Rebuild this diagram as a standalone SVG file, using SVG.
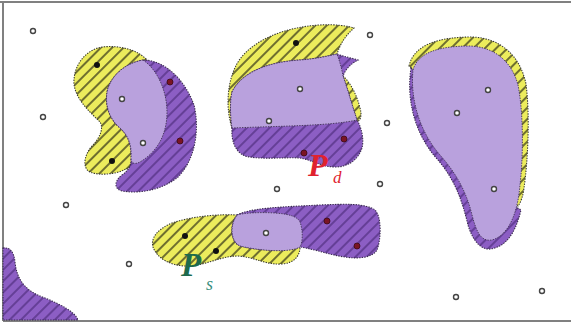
<svg xmlns="http://www.w3.org/2000/svg" width="571" height="326" viewBox="0 0 571 326">
<defs>
<pattern id="hy" width="8" height="8" patternUnits="userSpaceOnUse" patternTransform="rotate(45)">
<rect width="8" height="8" fill="#ecec5c"/>
<line x1="1" y1="0" x2="1" y2="8" stroke="#1a1a10" stroke-width="1.2"/>
</pattern>
<pattern id="hp" width="8" height="8" patternUnits="userSpaceOnUse" patternTransform="rotate(45)">
<rect width="8" height="8" fill="#8c5ec4"/>
<line x1="1" y1="0" x2="1" y2="8" stroke="#4a2a78" stroke-width="1.2"/>
</pattern>
</defs>
<style>
.y{fill:url(#hy);stroke:#3a3a30;stroke-width:1.1;stroke-dasharray:1.4 1.2}
.p{fill:url(#hp);stroke:#3a2a50;stroke-width:1.1;stroke-dasharray:1.4 1.2}
.l{fill:#b9a1dd;stroke:#4a3a60;stroke-width:1;stroke-dasharray:1.4 1.2}
.o{fill:#fff;stroke:#444;stroke-width:1.4}
.k{fill:#111}
.r{fill:#7a1424;stroke:#3a0a14;stroke-width:0.8}
.lab{font-family:"Liberation Serif",serif;font-style:italic}
</style>
<rect width="571" height="326" fill="#fff"/>
<path d="M0,2 H571 M3,2 V321 M3,321 H571" fill="none" stroke="#808080" stroke-width="2"/>

<g id="region1">
<path class="y" d="M147,60 C158,72 167,92 167,112 C167,135 157,152 140,162 C134,166 128,168 124,170 C115,174 100,176 90,172 C82,168 84,155 92,146 C100,138 104,128 100,122 C90,112 76,100 74,84 C73,66 85,50 102,47 C120,45 138,50 147,60 Z"/>
<path class="p" d="M143,60 C165,60 185,80 194,105 C200,130 195,160 178,177 C162,190 140,194 122,191 C114,189 114,181 122,175 C128,171 131,166 131,160 C132,145 128,135 120,128 C108,118 104,102 108,88 C113,74 126,63 143,60 Z"/>
<path class="l" d="M143,60 C158,70 167,92 167,112 C167,135 157,152 140,162 C136,164 131,165 131,158 C132,145 128,135 120,128 C108,118 104,102 108,88 C113,74 126,63 143,60 Z"/>
</g>

<g id="region2">
<path class="y" d="M232,128 C226,110 226,82 238,62 C252,40 285,27 320,25 C335,24 348,26 354,28 C346,35 340,44 337,54 C340,62 342,70 343,76 C350,82 357,95 360,108 C362,115 361,120 357,122 C330,126 280,126 232,128 Z"/>
<path class="p" d="M337,54 C345,57 352,58 358,60 C352,63 346,68 343,76 C348,90 352,105 357,120 C362,128 364,140 362,148 C358,160 348,167 335,167 C322,167 312,160 300,158 C285,157 260,160 245,156 C235,152 231,140 232,128 C230,115 230,100 232,92 C242,72 268,62 300,60 C315,59 328,56 337,54 Z"/>
<path class="l" d="M232,92 C242,72 268,62 300,60 C315,59 328,56 337,54 C340,62 342,70 343,76 C348,90 352,105 357,120 C330,126 280,126 232,128 C230,115 230,100 232,92 Z"/>
</g>

<g id="region3">
<path class="y" d="M409,66 C414,44 440,37 472,37 C500,38 520,55 526,84 C530,115 528,160 524,188 C523,196 521,202 518,206 L505,200 L450,120 L420,75 Z"/>
<path class="p" d="M411,68 C406,100 415,135 438,160 C455,180 462,200 468,225 C473,242 482,250 490,249 C505,247 515,235 521,210 L505,200 L450,120 L418,75 Z"/>
<path class="l" d="M413,70 C418,52 440,46 470,46 C495,47 512,62 518,85 C524,115 523,160 520,185 C518,210 510,235 492,240 C480,242 476,230 472,215 C466,190 455,172 440,155 C420,132 410,100 413,70 Z"/>
</g>

<g id="region4">
<path class="y" d="M237,215 C220,214 195,216 175,222 C160,227 150,237 153,247 C157,258 170,266 187,266 C205,266 220,256 238,256 C255,257 265,265 282,264 C295,263 300,255 300,247 C303,238 302,225 297,219 C290,213 265,212 250,213 C243,213 240,214 237,215 Z"/>
<path class="p" d="M237,215 C250,208 280,207 320,205 C345,204 365,203 375,210 C382,217 381,240 377,250 C372,258 358,259 345,257 C330,255 318,250 300,247 C280,252 250,250 238,245 C231,240 229,225 237,215 Z"/>
<path class="l" d="M237,215 C243,213 260,212 275,213 C290,214 298,217 300,222 C303,230 303,242 300,247 C290,253 260,251 240,246 C231,242 229,226 237,215 Z"/>
</g>

<g id="region5">
<path class="p" d="M3,248 C10,247 14,252 15,262 C17,280 25,291 45,298 C62,305 75,312 78,320 L3,320 Z"/>
</g>

<g id="points">
<circle class="o" cx="33" cy="31" r="2.5"/>
<circle class="o" cx="43" cy="117" r="2.5"/>
<circle class="o" cx="66" cy="205" r="2.5"/>
<circle class="o" cx="129" cy="264" r="2.5"/>
<circle class="o" cx="370" cy="35" r="2.5"/>
<circle class="o" cx="387" cy="123" r="2.5"/>
<circle class="o" cx="380" cy="184" r="2.5"/>
<circle class="o" cx="277" cy="189" r="2.5"/>
<circle class="o" cx="456" cy="297" r="2.5"/>
<circle class="o" cx="542" cy="291" r="2.5"/>
<circle class="o" cx="122" cy="99" r="2.5"/>
<circle class="o" cx="143" cy="143" r="2.5"/>
<circle class="o" cx="300" cy="89" r="2.5"/>
<circle class="o" cx="269" cy="121" r="2.5"/>
<circle class="o" cx="266" cy="233" r="2.5"/>
<circle class="o" cx="488" cy="90" r="2.5"/>
<circle class="o" cx="457" cy="113" r="2.5"/>
<circle class="o" cx="494" cy="189" r="2.5"/>
<circle class="k" cx="97" cy="65" r="3"/>
<circle class="k" cx="112" cy="161" r="3"/>
<circle class="k" cx="296" cy="43" r="3"/>
<circle class="k" cx="185" cy="236" r="3"/>
<circle class="k" cx="216" cy="251" r="3"/>
<circle class="r" cx="170" cy="82" r="3"/>
<circle class="r" cx="180" cy="141" r="3"/>
<circle class="r" cx="344" cy="139" r="3"/>
<circle class="r" cx="304" cy="153" r="3"/>
<circle class="r" cx="327" cy="221" r="3"/>
<circle class="r" cx="357" cy="246" r="3"/>
</g>

<g id="label-pd">
<text class="lab" x="308" y="176" font-size="32" font-weight="bold" fill="#e0222e">P</text>
<text class="lab" x="333" y="183" font-size="17" fill="#e0222e">d</text>
</g>
<g id="label-ps">
<text class="lab" x="181" y="276" font-size="33" font-weight="bold" fill="#1e6b4c">P</text>
<text class="lab" x="206" y="290" font-size="18" fill="#3a8f80">s</text>
</g>
</svg>
